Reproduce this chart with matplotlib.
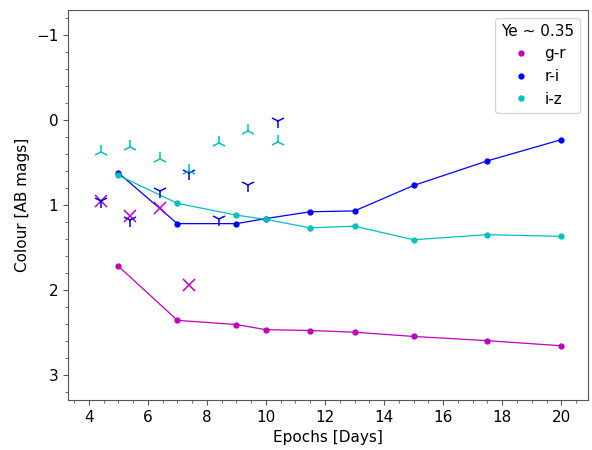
import matplotlib
matplotlib.use('Agg')
import matplotlib.pyplot as plt
from matplotlib.ticker import MultipleLocator

# model epochs and colours
epochs = [5, 7, 9, 10, 11.5, 13, 15, 17.5, 20]
g_r = [1.72, 2.36, 2.41, 2.47, 2.48, 2.50, 2.55, 2.60, 2.66]
r_i = [0.62, 1.22, 1.22, 1.16, 1.08, 1.07, 0.77, 0.48, 0.23]
i_z = [0.65, 0.98, 1.12, 1.17, 1.27, 1.25, 1.41, 1.35, 1.37]

# observed colours
obs_epochs = [4.4, 5.4, 6.4, 7.4, 8.4, 9.4, 10.4]
obs_g_r = [0.95, 1.13, 1.03, 1.94]
obs_r_i = [0.95, 1.18, 0.84, 0.62, 1.16, 0.77, 0.01]
obs_i_z = [0.37, 0.32, 0.46, 0.60, 0.27, 0.13, 0.26]

plt.rcParams['font.size'] = 11

fig = plt.figure(figsize=(5.92, 4.5), dpi=100)
ax = fig.add_axes([0.115, 0.111, 0.878, 0.867])

# model curves
ax.plot(epochs, g_r, '-', color='m', lw=0.9)
ax.plot(epochs, r_i, '-', color='b', lw=0.9)
ax.plot(epochs, i_z, '-', color='c', lw=0.9)
ax.plot(epochs, g_r, 'o', color='m', ms=3.5, label='g-r')
ax.plot(epochs, r_i, 'o', color='b', ms=3.5, label='r-i')
ax.plot(epochs, i_z, 'o', color='c', ms=3.5, label='i-z')

# observations
ax.plot(obs_epochs[:len(obs_g_r)], obs_g_r, 'x', color='m', ms=8, mew=1.1, ls='none')
ax.plot(obs_epochs, obs_r_i, '1', color='b', ms=10, mew=1.1, ls='none')
ax.plot(obs_epochs, obs_i_z, '2', color='c', ms=10, mew=1.1, ls='none')

ax.set_xlim(3.3, 20.9)
ax.set_ylim(3.3, -1.3)
ax.xaxis.set_major_locator(MultipleLocator(2))
ax.xaxis.set_minor_locator(MultipleLocator(0.5))
ax.yaxis.set_major_locator(MultipleLocator(1))
ax.yaxis.set_minor_locator(MultipleLocator(0.2))

for s in ax.spines.values():
    s.set_color('#555555')
ax.tick_params(which='both', color='#555555')

ax.set_xlabel('Epochs [Days]')
ax.set_ylabel('Colour [AB mags]')

ax.legend(title='Ye ~ 0.35', loc='upper right', handlelength=1.5)

fig.savefig('out.png', dpi=100)
